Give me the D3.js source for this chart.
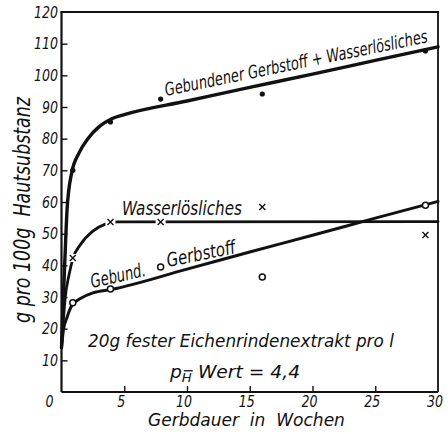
<!DOCTYPE html>
<html>
<head>
<meta charset="utf-8">
<script src="https://cdn.jsdelivr.net/npm/d3@7"></script>
<style>
  html, body { margin: 0; padding: 0; background: #fff; }
  svg { display: block; }
  text { font-family: "DejaVu Sans Condensed", "Liberation Sans", sans-serif; font-style: italic; fill: #111; white-space: pre; }
</style>
</head>
<body>
<svg id="chart" width="448" height="434"></svg>
<script>
// Tanning duration (weeks) and uptake in g per 100 g hide substance
const xTicks = [0, 5, 10, 15, 20, 25, 30];
const yTicks = [10, 20, 30, 40, 50, 60, 70, 80, 90, 100, 110, 120];

// measured points
const weeks        = [0.9, 3.9, 7.9, 16, 29];
const totalValues  = [70, 85.3, 92.5, 94.1, 107.7];   // bound tannin + water-soluble
const waterValues  = [42.3, 53.7, 53.7, 58.4, 49.6];  // water-soluble
const boundValues  = [28.2, 32.5, 39.5, 36.3, 59];    // bound tannin

// drawn (smoothed) curves
const totalCurveX = [0, 0.1, 0.25, 0.45, 0.8, 1.4, 2.1, 3, 4, 5, 10, 15, 20, 25, 30];
const totalCurveY = [14, 25, 40, 58, 69, 75.5, 80, 83.8, 86.3, 87.6, 91.9, 96.2, 100.4, 104.7, 109];
const waterCurveX = [0, 0.1, 0.3, 0.6, 0.92, 1.5, 2.5, 3.5, 4.5, 30];
const waterCurveY = [14, 20, 30, 37, 42.3, 46.5, 50.8, 53, 53.7, 53.8];
const boundCurveX = [0, 0.15, 0.45, 0.85, 1.5, 2.5, 4, 10, 15, 20, 25, 30];
const boundCurveY = [14, 19.5, 23.7, 27.5, 29.5, 31.3, 32.4, 38.8, 44.2, 49.5, 54.9, 60.2];

const svg = d3.select("#chart");
const x = d3.scaleLinear().domain([0, 30]).range([61.5, 438]);
const y = d3.scaleLinear().domain([0, 120]).range([392, 12]);

const zip = (xs, ys) => xs.map((v, i) => [v, ys[i]]);
const line = d3.line().x(d => x(d[0])).y(d => y(d[1])).curve(d3.curveMonotoneX);

// narrow lettering: draw text, then squeeze it horizontally to the wanted width
function label(str, px, py, angle, size, width, anchor = "start") {
  const t = svg.append("text").attr("font-size", size).attr("text-anchor", anchor).text(str);
  const natural = t.node().getComputedTextLength();
  const s = width / natural;
  t.attr("transform", `translate(${px},${py}) rotate(${angle}) scale(${s},1)`);
  return t;
}

// curves
svg.append("path").attr("d", line(zip(totalCurveX, totalCurveY)))
  .attr("fill", "none").attr("stroke", "#111").attr("stroke-width", 3.4).attr("stroke-linecap", "round");
svg.append("path").attr("d", line(zip(waterCurveX, waterCurveY)))
  .attr("fill", "none").attr("stroke", "#111").attr("stroke-width", 2.8).attr("stroke-linecap", "round");
svg.append("path").attr("d", line(zip(boundCurveX, boundCurveY)))
  .attr("fill", "none").attr("stroke", "#111").attr("stroke-width", 3).attr("stroke-linecap", "round");

// frame
const g = svg.append("g");
g.append("line").attr("x1", x(0)).attr("x2", x(0)).attr("y1", y(0)).attr("y2", y(120))
  .attr("stroke", "#111").attr("stroke-width", 2.2);
g.append("line").attr("x1", x(0)).attr("x2", x(30)).attr("y1", y(0)).attr("y2", y(0))
  .attr("stroke", "#111").attr("stroke-width", 2.2);
g.append("line").attr("x1", x(0) - 1).attr("x2", x(30) + 1).attr("y1", y(120)).attr("y2", y(120))
  .attr("stroke", "#111").attr("stroke-width", 1.8);
g.append("line").attr("x1", x(30)).attr("x2", x(30)).attr("y1", y(0)).attr("y2", y(120))
  .attr("stroke", "#111").attr("stroke-width", 1.8);

// y axis: inward ticks and labels
const yAxis = d3.axisRight(y).tickValues(yTicks.slice(0, -1)).tickSize(6).tickFormat("");
const ya = svg.append("g").attr("transform", `translate(${x(0)},0)`).call(yAxis);
ya.select(".domain").remove();
ya.selectAll(".tick line").attr("stroke", "#111").attr("stroke-width", 1.4);
yTicks.forEach(d => label(String(d), 58, y(d) + 5.5, 0, 16, String(d).length * 8, "end"));

// x axis: inward ticks and labels
const xAxis = d3.axisTop(x).tickValues(xTicks.slice(1, -1)).tickSize(6).tickFormat("");
const xa = svg.append("g").attr("transform", `translate(0,${y(0)})`).call(xAxis);
xa.select(".domain").remove();
xa.selectAll(".tick line").attr("stroke", "#111").attr("stroke-width", 1.4);
xTicks.forEach(d => label(String(d), x(d) - (d === 0 ? 12 : 3), 407, 0, 16, String(d).length * 8, "middle"));

// markers: bound tannin (open circles)
svg.append("g").selectAll("circle").data(zip(weeks, boundValues)).join("circle")
  .attr("cx", d => x(d[0])).attr("cy", d => y(d[1])).attr("r", 3)
  .attr("fill", "#fff").attr("stroke", "#111").attr("stroke-width", 1.5);

// markers: water-soluble (crosses with a small clearing around them)
const wm = svg.append("g").selectAll("g").data(zip(weeks, waterValues)).join("g")
  .attr("transform", d => `translate(${x(d[0])},${y(d[1])})`);
wm.append("rect").attr("x", -5).attr("y", -4).attr("width", 10).attr("height", 8).attr("fill", "#fff");
wm.append("path").attr("d", "M-3,-3L3,3M-3,3L3,-3").attr("stroke", "#111").attr("stroke-width", 1.4);

// markers: total (filled dots)
svg.append("g").selectAll("circle").data(zip(weeks, totalValues)).join("circle")
  .attr("cx", d => x(d[0])).attr("cy", d => y(d[1])).attr("r", 2.6).attr("fill", "#111");

// curve labels
label("Gebundener Gerbstoff + Wasserlösliches", 166, 96, -11.6, 18, 268);
label("Wasserlösliches", 122, 215, 0, 20, 120);
label("Gebund.", 92, 288, -12.5, 19, 56);
label("Gerbstoff", 168, 267, -11.5, 19, 70);

// conditions
label("20g fester Eichenrindenextrakt pro l", 88, 347, 0, 18, 306);
const ph = svg.append("text").attr("font-size", 17);
ph.append("tspan").text("p");
const phSub = ph.append("tspan").attr("font-size", 12).attr("dy", 4).text("H");
ph.append("tspan").attr("dy", -4).attr("dx", 5).text("Wert = 4,4");
const phLen = ph.node().getComputedTextLength();
ph.attr("transform", `translate(170,378) scale(${124 / phLen},1)`);
// bar over the subscript H
const hb = phSub.node().getBoundingClientRect();
svg.append("line").attr("x1", hb.left + 2).attr("x2", hb.right + 1)
  .attr("y1", hb.top - 0.5).attr("y2", hb.top - 0.5)
  .attr("stroke", "#111").attr("stroke-width", 1.3);

// axis titles
label("Gerbdauer  in  Wochen", 148, 426, 0, 18, 197);
label("g pro 100g  Hautsubstanz", 30, 210, -90, 23, 226, "middle");
</script>
</body>
</html>
